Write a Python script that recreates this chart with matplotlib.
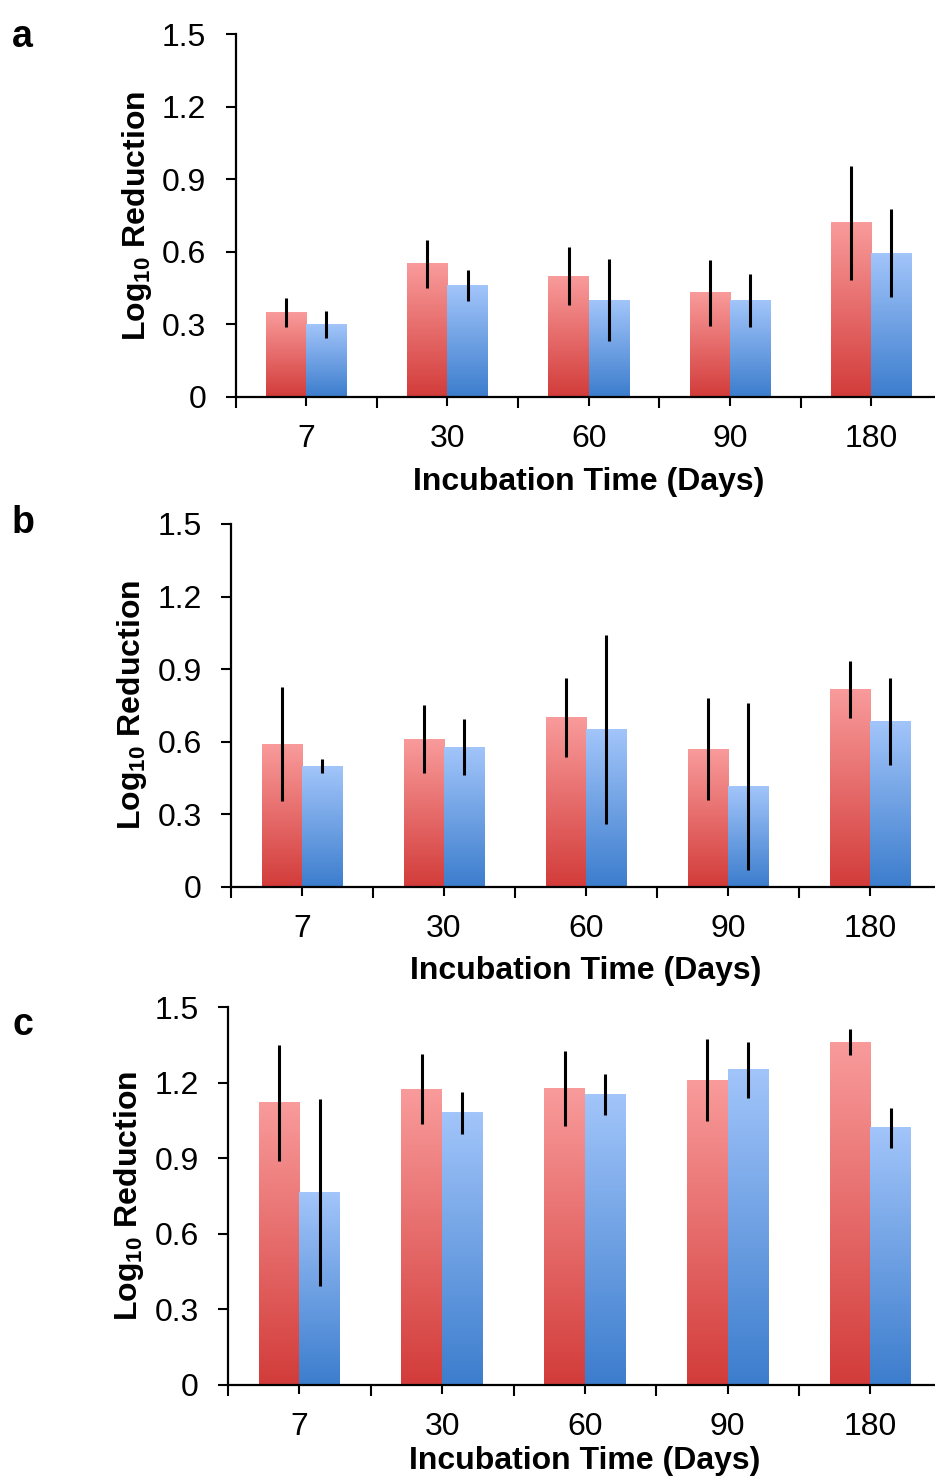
import numpy as np
import matplotlib
matplotlib.use('Agg')
import matplotlib.pyplot as plt
from matplotlib.colors import to_rgb

# ── Data ──────────────────────────────────────────────────────────────────
DAYS = ['7', '30', '60', '90', '180']
Y_TICKS = [0, 0.3, 0.6, 0.9, 1.2, 1.5]
Y_LABELS = ['0', '0.3', '0.6', '0.9', '1.2', '1.5']

a_red = [0.35, 0.55, 0.50, 0.43, 0.72]
a_red_err = [0.06, 0.10, 0.12, 0.135, 0.235]
a_blue = [0.30, 0.46, 0.40, 0.40, 0.595]
a_blue_err = [0.056, 0.064, 0.17, 0.11, 0.18]

b_red = [0.59, 0.61, 0.70, 0.57, 0.815]
b_red_err = [0.235, 0.14, 0.165, 0.21, 0.118]
b_blue = [0.50, 0.578, 0.651, 0.415, 0.684]
b_blue_err = [0.03, 0.115, 0.39, 0.345, 0.18]

c_red = [1.12, 1.175, 1.178, 1.21, 1.362]
c_red_err = [0.23, 0.14, 0.15, 0.163, 0.05]
c_blue = [0.765, 1.081, 1.154, 1.251, 1.022]
c_blue_err = [0.37, 0.083, 0.08, 0.112, 0.08]

# ── Styling ───────────────────────────────────────────────────────────────
plt.rcParams.update({
    'font.family': 'Liberation Sans',
    'mathtext.fontset': 'custom',
    'mathtext.rm': 'Liberation Sans',
    'mathtext.bf': 'Liberation Sans:bold',
})

RED_TOP, RED_BOT = '#F99B9B', '#D23C3A'
BLUE_TOP, BLUE_BOT = '#A2C5FA', '#3C7DCD'
W, H = 935, 1479
BAR_W = 0.285
FS = 23


def gradient(top, bottom, n=256):
    t = np.linspace(0, 1, n)[:, None]
    c0 = np.array(to_rgb(top)); c1 = np.array(to_rgb(bottom))
    return (c0 * (1 - t) + c1 * t)[:, None, :]


def gradient_bars(ax, x, vals, top, bottom):
    bars = ax.bar(x, vals, width=BAR_W, color='none', edgecolor='none', zorder=2)
    img = gradient(top, bottom)
    for p in bars.patches:
        x0 = p.get_x(); w = p.get_width(); h = p.get_height()
        ax.imshow(img, extent=[x0, x0 + w, 0, h], origin='upper',
                  aspect='auto', zorder=2, interpolation='bilinear')
    return bars


def panel(letter, left, top, bottom, cat_w, red, red_err, blue, blue_err,
          label_y, xlab_pad):
    right = left + 5 * cat_w
    ax = fig.add_axes([left / W, 1 - bottom / H, (right - left) / W, (bottom - top) / H])
    x = np.arange(len(DAYS))
    gradient_bars(ax, x - BAR_W / 2, red, RED_TOP, RED_BOT)
    gradient_bars(ax, x + BAR_W / 2, blue, BLUE_TOP, BLUE_BOT)
    ax.errorbar(x - BAR_W / 2, red, yerr=red_err, fmt='none', ecolor='black',
                elinewidth=2.2, capsize=0, zorder=3)
    ax.errorbar(x + BAR_W / 2, blue, yerr=blue_err, fmt='none', ecolor='black',
                elinewidth=2.2, capsize=0, zorder=3)

    ax.set_xlim(-0.5, 4.5)
    ax.set_ylim(0, 1.5)
    for s in ['top', 'right']:
        ax.spines[s].set_visible(False)
    for s in ['left', 'bottom']:
        ax.spines[s].set_linewidth(1.6)

    ax.set_xticks(x)
    ax.set_xticklabels(DAYS)
    ax.set_xticks(np.arange(-0.5, 4.0, 1.0), minor=True)
    ax.tick_params(axis='x', which='major', direction='inout', length=13,
                   width=1.5, labelsize=FS, pad=13)
    ax.tick_params(axis='x', which='minor', direction='out', length=8, width=1.5)
    ax.set_yticks(Y_TICKS)
    ax.set_yticklabels(Y_LABELS)
    ax.tick_params(axis='y', direction='out', length=7, width=1.5,
                   labelsize=FS, pad=14)

    ax.set_xlabel('Incubation Time (Days)', fontsize=FS, fontweight='bold',
                  labelpad=xlab_pad)
    ax.set_ylabel(r'Log$_{\mathbf{10}}$ Reduction', fontsize=FS, fontweight='bold',
                  labelpad=6)
    fig.text(12 / W, 1 - label_y / H, letter, fontsize=27, fontweight='bold',
             ha='left', va='center')
    return ax


fig = plt.figure(figsize=(W / 100, H / 100), dpi=100)
fig.patch.set_facecolor('white')

panel('a', 235.5, 34, 397, 141.3, a_red, a_red_err, a_blue, a_blue_err, 37, 9)
panel('b', 231, 524, 886.7, 142.0, b_red, b_red_err, b_blue, b_blue_err, 523, 9)
panel('c', 228, 1007.3, 1385, 142.75, c_red, c_red_err, c_blue, c_blue_err, 1025, 3)

fig.savefig('out.png', dpi=100, facecolor='white')
